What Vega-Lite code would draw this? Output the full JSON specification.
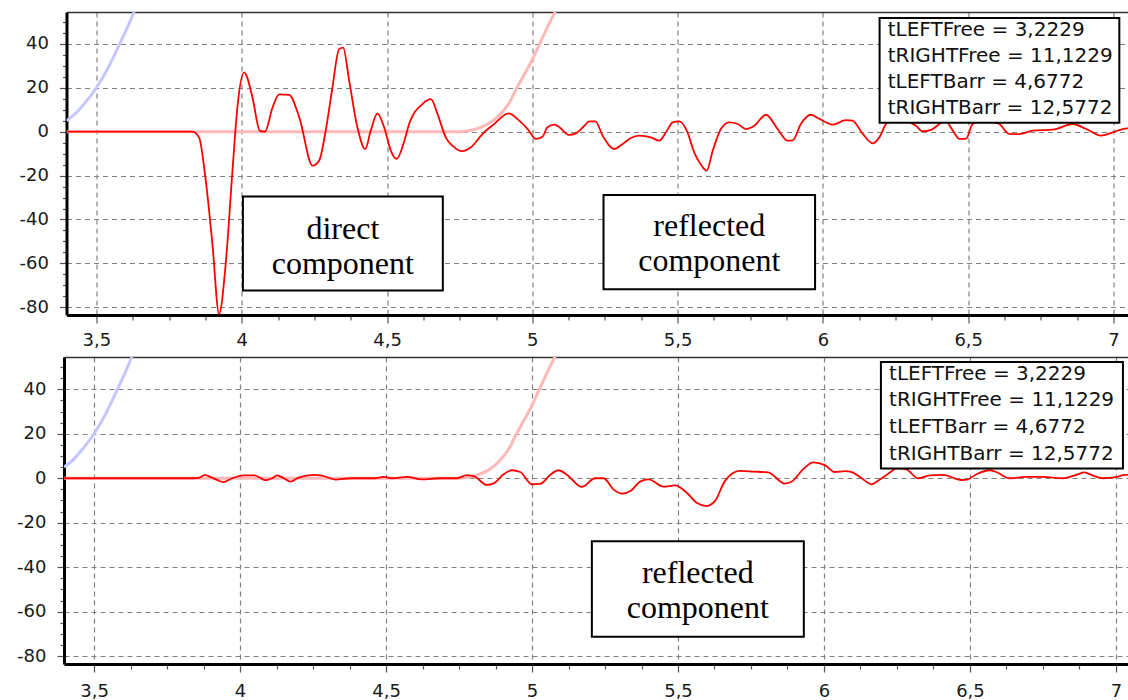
{
  "$schema": "https://vega.github.io/schema/vega-lite/v6.json",
  "background": "white",
  "padding": {"left": 16, "top": 12, "right": 0, "bottom": 0},
  "spacing": 42,
  "bounds": "flush",
  "center": true,
  "config": {"view": {"stroke": null}, "font": "DejaVu Sans"},
  "datasets": {
    "blue": [
      {"t": 3.397, "v": 5}, {"t": 3.43, "v": 8.5}, {"t": 3.46, "v": 13}, {"t": 3.5, "v": 20},
      {"t": 3.54, "v": 29}, {"t": 3.58, "v": 40}, {"t": 3.61, "v": 48.5}, {"t": 3.64, "v": 58}
    ],
    "pink": [
      {"t": 3.397, "v": 0}, {"t": 4.75, "v": 0}, {"t": 4.78, "v": 0.4}, {"t": 4.82, "v": 1.8},
      {"t": 4.86, "v": 4.5}, {"t": 4.89, "v": 8}, {"t": 4.92, "v": 13}, {"t": 4.945, "v": 19.5},
      {"t": 4.97, "v": 25.5}, {"t": 4.995, "v": 31.5}, {"t": 5.025, "v": 40}, {"t": 5.05, "v": 47},
      {"t": 5.08, "v": 55}, {"t": 5.1, "v": 60}
    ],
    "redTop": [
      {"t": 3.397, "v": 0}, {"t": 3.83, "v": 0}, {"t": 3.853, "v": -2.6}, {"t": 3.876, "v": -22},
      {"t": 3.899, "v": -51}, {"t": 3.922, "v": -83}, {"t": 3.945, "v": -60}, {"t": 3.968, "v": -18},
      {"t": 3.985, "v": 11}, {"t": 4.008, "v": 27}, {"t": 4.037, "v": 15.6}, {"t": 4.062, "v": 0.5},
      {"t": 4.08, "v": 0}, {"t": 4.106, "v": 11}, {"t": 4.129, "v": 17}, {"t": 4.163, "v": 16.8},
      {"t": 4.198, "v": 6.5}, {"t": 4.244, "v": -15.5}, {"t": 4.267, "v": -13}, {"t": 4.289, "v": 0.5},
      {"t": 4.312, "v": 20}, {"t": 4.335, "v": 37.6}, {"t": 4.349, "v": 38.3}, {"t": 4.37, "v": 23},
      {"t": 4.398, "v": 2}, {"t": 4.425, "v": -7.9}, {"t": 4.444, "v": 0.5}, {"t": 4.467, "v": 8.3},
      {"t": 4.49, "v": 2}, {"t": 4.513, "v": -8.6}, {"t": 4.533, "v": -12.4}, {"t": 4.56, "v": -4},
      {"t": 4.576, "v": 3.5}, {"t": 4.622, "v": 12.6}, {"t": 4.651, "v": 14.8}, {"t": 4.674, "v": 8},
      {"t": 4.702, "v": -2.6}, {"t": 4.725, "v": -6.4}, {"t": 4.758, "v": -8.9}, {"t": 4.789, "v": -7.1},
      {"t": 4.829, "v": -1}, {"t": 4.869, "v": 3.5}, {"t": 4.918, "v": 8.3}, {"t": 4.955, "v": 5},
      {"t": 4.984, "v": 1.2}, {"t": 5.012, "v": -3.3}, {"t": 5.035, "v": -2.3}, {"t": 5.052, "v": 2},
      {"t": 5.076, "v": 3.2}, {"t": 5.093, "v": 2}, {"t": 5.127, "v": -1.5}, {"t": 5.15, "v": -0.8},
      {"t": 5.179, "v": 2.7}, {"t": 5.196, "v": 4.7}, {"t": 5.217, "v": 4.7}, {"t": 5.242, "v": -1.8},
      {"t": 5.282, "v": -7.9}, {"t": 5.311, "v": -5.6}, {"t": 5.339, "v": -2.9}, {"t": 5.368, "v": -1.8},
      {"t": 5.408, "v": -2.6}, {"t": 5.437, "v": -4.1}, {"t": 5.46, "v": -0.3}, {"t": 5.483, "v": 4.2},
      {"t": 5.506, "v": 4.7}, {"t": 5.534, "v": -0.3}, {"t": 5.557, "v": -9.4}, {"t": 5.58, "v": -15},
      {"t": 5.6, "v": -17.7}, {"t": 5.621, "v": -8.6}, {"t": 5.649, "v": 1.2}, {"t": 5.678, "v": 4.2},
      {"t": 5.707, "v": 3.5}, {"t": 5.735, "v": 1.2}, {"t": 5.764, "v": 2.7}, {"t": 5.804, "v": 7.7},
      {"t": 5.844, "v": 1.2}, {"t": 5.879, "v": -4.1}, {"t": 5.896, "v": -4}, {"t": 5.924, "v": 3.5},
      {"t": 5.959, "v": 7.7}, {"t": 5.988, "v": 5.8}, {"t": 6.034, "v": 3.2}, {"t": 6.079, "v": 5.3},
      {"t": 6.102, "v": 5}, {"t": 6.137, "v": -1}, {"t": 6.171, "v": -5.3}, {"t": 6.194, "v": -2.6},
      {"t": 6.217, "v": 3.5}, {"t": 6.245, "v": 6}, {"t": 6.28, "v": 5}, {"t": 6.32, "v": 2.7},
      {"t": 6.343, "v": 0.1}, {"t": 6.372, "v": 0.8}, {"t": 6.401, "v": 3.5}, {"t": 6.42, "v": 5},
      {"t": 6.447, "v": 0.5}, {"t": 6.47, "v": -3.3}, {"t": 6.493, "v": -3.2}, {"t": 6.515, "v": 3.5},
      {"t": 6.55, "v": 5}, {"t": 6.58, "v": 4.5}, {"t": 6.607, "v": 3.5}, {"t": 6.641, "v": -1},
      {"t": 6.676, "v": -1.1}, {"t": 6.722, "v": 0.5}, {"t": 6.791, "v": 0.9}, {"t": 6.86, "v": 3.5},
      {"t": 6.906, "v": 1.2}, {"t": 6.957, "v": -1.8}, {"t": 6.997, "v": -0.3}, {"t": 7.032, "v": 1.2},
      {"t": 7.055, "v": 1.5}
    ],
    "redBottom": [
      {"t": 3.397, "v": 0}, {"t": 3.84, "v": 0}, {"t": 3.862, "v": 0.3}, {"t": 3.879, "v": 1.5},
      {"t": 3.9, "v": 0.5}, {"t": 3.925, "v": -1}, {"t": 3.942, "v": -1.7}, {"t": 3.973, "v": 0},
      {"t": 4.013, "v": 1.3}, {"t": 4.05, "v": 1.3}, {"t": 4.087, "v": -0.9}, {"t": 4.11, "v": 0},
      {"t": 4.127, "v": 1.3}, {"t": 4.15, "v": 0}, {"t": 4.173, "v": -1.5}, {"t": 4.2, "v": 0.3},
      {"t": 4.253, "v": 1.5}, {"t": 4.28, "v": 1.2}, {"t": 4.327, "v": -0.6}, {"t": 4.38, "v": 0},
      {"t": 4.46, "v": 0}, {"t": 4.492, "v": 0.6}, {"t": 4.52, "v": 0}, {"t": 4.572, "v": 0.6},
      {"t": 4.623, "v": -0.5}, {"t": 4.68, "v": 0}, {"t": 4.743, "v": 0}, {"t": 4.777, "v": 1.4},
      {"t": 4.806, "v": 0.6}, {"t": 4.845, "v": -3}, {"t": 4.87, "v": -2.2}, {"t": 4.903, "v": 1.8},
      {"t": 4.931, "v": 3.6}, {"t": 4.96, "v": 2.8}, {"t": 4.999, "v": -2.7}, {"t": 5.03, "v": -2.4},
      {"t": 5.062, "v": 1.5}, {"t": 5.091, "v": 3.6}, {"t": 5.12, "v": 1.5}, {"t": 5.171, "v": -3.9},
      {"t": 5.216, "v": 0}, {"t": 5.245, "v": 0}, {"t": 5.279, "v": -5}, {"t": 5.308, "v": -6.9},
      {"t": 5.34, "v": -5.5}, {"t": 5.37, "v": -1.5}, {"t": 5.4, "v": -0.5}, {"t": 5.45, "v": -3.8},
      {"t": 5.49, "v": -3.2}, {"t": 5.53, "v": -6.5}, {"t": 5.564, "v": -11}, {"t": 5.598, "v": -12.5},
      {"t": 5.627, "v": -10.2}, {"t": 5.661, "v": -1.2}, {"t": 5.712, "v": 3.3}, {"t": 5.758, "v": 3},
      {"t": 5.809, "v": 2.6}, {"t": 5.866, "v": -2.4}, {"t": 5.89, "v": -1.5}, {"t": 5.929, "v": 4.1},
      {"t": 5.963, "v": 7.1}, {"t": 6.003, "v": 5.9}, {"t": 6.037, "v": 2.8}, {"t": 6.072, "v": 3.2},
      {"t": 6.095, "v": 2.8}, {"t": 6.129, "v": 0}, {"t": 6.163, "v": -2.7}, {"t": 6.191, "v": -0.6},
      {"t": 6.226, "v": 2.6}, {"t": 6.25, "v": 4.5}, {"t": 6.282, "v": 4}, {"t": 6.322, "v": 0},
      {"t": 6.362, "v": 1.3}, {"t": 6.408, "v": 1.5}, {"t": 6.471, "v": -0.8}, {"t": 6.49, "v": -0.6},
      {"t": 6.522, "v": 1.8}, {"t": 6.567, "v": 3.6}, {"t": 6.59, "v": 2.8}, {"t": 6.636, "v": 0},
      {"t": 6.693, "v": 0.6}, {"t": 6.75, "v": 0.6}, {"t": 6.818, "v": 0}, {"t": 6.864, "v": 1.5},
      {"t": 6.893, "v": 2.6}, {"t": 6.92, "v": 1.3}, {"t": 6.955, "v": 0}, {"t": 7.0, "v": 0.5},
      {"t": 7.03, "v": 1.5}, {"t": 7.055, "v": 1.5}
    ],
    "noteTop": [
      {"x1": 4.004, "x2": 4.692, "y1": -29.5, "y2": -72.3, "xc": 4.348, "yc": -44.2, "label": "direct\ncomponent"},
      {"x1": 5.245, "x2": 5.973, "y1": -28.9, "y2": -71.8, "xc": 5.609, "yc": -42.8, "label": "reflected\ncomponent"}
    ],
    "noteBottom": [
      {"x1": 5.205, "x2": 5.931, "y1": -28.3, "y2": -71.2, "xc": 5.568, "yc": -42.5, "label": "reflected\ncomponent"}
    ],
    "legBoxTop": [{"x1": 6.195, "x2": 7.02, "y1": 51.8, "y2": 4.1}],
    "legBoxBottom": [{"x1": 6.195, "x2": 7.024, "y1": 52.2, "y2": 4.4}],
    "legTextTop": [
      {"x": 6.223, "y": 46.4, "label": "tLEFTFree = 3,2229"},
      {"x": 6.223, "y": 34.5, "label": "tRIGHTFree = 11,1229"},
      {"x": 6.223, "y": 22.7, "label": "tLEFTBarr = 4,6772"},
      {"x": 6.223, "y": 10.9, "label": "tRIGHTBarr = 12,5772"}
    ],
    "legTextBottom": [
      {"x": 6.223, "y": 47, "label": "tLEFTFree = 3,2229"},
      {"x": 6.223, "y": 35, "label": "tRIGHTFree = 11,1229"},
      {"x": 6.223, "y": 22.9, "label": "tLEFTBarr = 4,6772"},
      {"x": 6.223, "y": 10.8, "label": "tRIGHTBarr = 12,5772"}
    ]
  },
  "vconcat": [
    {
      "width": 1063,
      "height": 303,
      "resolve": {"axis": {"x": "independent", "y": "independent"}},
      "layer": [
        {
          "data": {"name": "blue"},
          "mark": {"type": "line", "color": "#c6c6ff", "strokeWidth": 3, "clip": true, "interpolate": "monotone"},
          "encoding": {
            "x": {"field": "t", "type": "quantitative", "scale": {"domain": [3.397, 7.055], "nice": false, "zero": false},
              "axis": {"title": null, "values": [3.5,3.625,3.75,3.875,4,4.125,4.25,4.375,4.5,4.625,4.75,4.875,5,5.125,5.25,5.375,5.5,5.625,5.75,5.875,6,6.125,6.25,6.375,6.5,6.625,6.75,6.875,7],
                "grid": true, "gridColor": "#808080", "gridDash": [5, 4], "gridWidth": 1.2,
                "gridOpacity": {"condition": {"test": "datum.value % 0.5 === 0", "value": 1}, "value": 0},
                "domainColor": "#000000", "domainWidth": 3, "tickColor": "#555555", "tickWidth": 1.2,
                "tickSize": {"condition": {"test": "datum.value % 0.5 === 0", "value": 8}, "value": 5},
                "labelExpr": "datum.value % 0.5 === 0 ? replace(toString(datum.value), '.', ',') : ''",
                "labelFont": "DejaVu Sans", "labelFontSize": 18, "labelColor": "#1a1a1a", "labelPadding": 8,
                "labelFlush": false, "labelOverlap": false, "labelBound": false}},
            "y": {"field": "v", "type": "quantitative", "scale": {"domain": [-83.5, 54.5], "nice": false, "zero": false},
              "axis": {"title": null, "values": [-80,-75,-70,-65,-60,-55,-50,-45,-40,-35,-30,-25,-20,-15,-10,-5,0,5,10,15,20,25,30,35,40,45,50],
                "grid": true, "gridColor": "#808080", "gridDash": [5, 4], "gridWidth": 1.2,
                "gridOpacity": {"condition": {"test": "datum.value % 20 === 0", "value": 1}, "value": 0},
                "domainColor": "#000000", "domainWidth": 3, "tickColor": "#555555", "tickWidth": 1.2,
                "tickSize": {"condition": {"test": "datum.value % 20 === 0", "value": 7}, "value": 4},
                "labelExpr": "datum.value % 20 === 0 ? toString(datum.value) : ''",
                "labelFont": "DejaVu Sans", "labelFontSize": 18, "labelColor": "#1a1a1a", "labelPadding": 11,
                "labelFlush": false, "labelOverlap": false, "labelBound": false}}
          }
        },
        {
          "data": {"name": "pink"},
          "mark": {"type": "line", "color": "#ffb8b8", "strokeWidth": 3, "clip": true, "interpolate": "monotone"},
          "encoding": {
            "x": {"field": "t", "type": "quantitative", "scale": {"domain": [3.397, 7.055], "nice": false, "zero": false},
              "axis": {"orient": "top", "title": null, "labels": false, "ticks": false, "grid": false, "domainColor": "#333333", "domainWidth": 1.5}},
            "y": {"field": "v", "type": "quantitative", "scale": {"domain": [-83.5, 54.5], "nice": false, "zero": false},
              "axis": {"orient": "right", "title": null, "labels": false, "ticks": false, "grid": false, "domainColor": "#808080", "domainWidth": 1.2, "domainDash": [5, 4]}}
          }
        },
        {
          "data": {"name": "redTop"},
          "mark": {"type": "line", "color": "#ff0000", "strokeWidth": 1.8, "clip": true, "interpolate": "monotone"},
          "encoding": {
            "x": {"field": "t", "type": "quantitative", "scale": {"domain": [3.397, 7.055], "nice": false, "zero": false}, "axis": null},
            "y": {"field": "v", "type": "quantitative", "scale": {"domain": [-83.5, 54.5], "nice": false, "zero": false}, "axis": null}
          }
        },
        {
          "data": {"name": "noteTop"},
          "mark": {"type": "rect", "fill": "white", "stroke": "black", "strokeWidth": 2},
          "encoding": {
            "x": {"field": "x1", "type": "quantitative", "scale": {"domain": [3.397, 7.055], "nice": false, "zero": false}, "axis": null},
            "x2": {"field": "x2"},
            "y": {"field": "y1", "type": "quantitative", "scale": {"domain": [-83.5, 54.5], "nice": false, "zero": false}, "axis": null},
            "y2": {"field": "y2"}
          }
        },
        {
          "data": {"name": "noteTop"},
          "mark": {"type": "text", "font": "Liberation Serif", "fontSize": 32, "lineBreak": "\n", "lineHeight": 35, "align": "center", "baseline": "middle", "color": "black"},
          "encoding": {
            "x": {"field": "xc", "type": "quantitative", "scale": {"domain": [3.397, 7.055], "nice": false, "zero": false}, "axis": null},
            "y": {"field": "yc", "type": "quantitative", "scale": {"domain": [-83.5, 54.5], "nice": false, "zero": false}, "axis": null},
            "text": {"field": "label"}
          }
        },
        {
          "data": {"name": "legBoxTop"},
          "mark": {"type": "rect", "fill": "white", "stroke": "black", "strokeWidth": 2},
          "encoding": {
            "x": {"field": "x1", "type": "quantitative", "scale": {"domain": [3.397, 7.055], "nice": false, "zero": false}, "axis": null},
            "x2": {"field": "x2"},
            "y": {"field": "y1", "type": "quantitative", "scale": {"domain": [-83.5, 54.5], "nice": false, "zero": false}, "axis": null},
            "y2": {"field": "y2"}
          }
        },
        {
          "data": {"name": "legTextTop"},
          "mark": {"type": "text", "font": "DejaVu Sans", "fontSize": 20, "align": "left", "baseline": "middle", "color": "#111111"},
          "encoding": {
            "x": {"field": "x", "type": "quantitative", "scale": {"domain": [3.397, 7.055], "nice": false, "zero": false}, "axis": null},
            "y": {"field": "y", "type": "quantitative", "scale": {"domain": [-83.5, 54.5], "nice": false, "zero": false}, "axis": null},
            "text": {"field": "label"}
          }
        }
      ]
    },
    {
      "width": 1068,
      "height": 307,
      "resolve": {"axis": {"x": "independent", "y": "independent"}},
      "layer": [
        {
          "data": {"name": "blue"},
          "mark": {"type": "line", "color": "#c6c6ff", "strokeWidth": 3, "clip": true, "interpolate": "monotone"},
          "encoding": {
            "x": {"field": "t", "type": "quantitative", "scale": {"domain": [3.397, 7.055], "nice": false, "zero": false},
              "axis": {"title": null, "values": [3.5,3.625,3.75,3.875,4,4.125,4.25,4.375,4.5,4.625,4.75,4.875,5,5.125,5.25,5.375,5.5,5.625,5.75,5.875,6,6.125,6.25,6.375,6.5,6.625,6.75,6.875,7],
                "grid": true, "gridColor": "#808080", "gridDash": [5, 4], "gridWidth": 1.2,
                "gridOpacity": {"condition": {"test": "datum.value % 0.5 === 0", "value": 1}, "value": 0},
                "domainColor": "#000000", "domainWidth": 3, "tickColor": "#555555", "tickWidth": 1.2,
                "tickSize": {"condition": {"test": "datum.value % 0.5 === 0", "value": 8}, "value": 5},
                "labelExpr": "datum.value % 0.5 === 0 ? replace(toString(datum.value), '.', ',') : ''",
                "labelFont": "DejaVu Sans", "labelFontSize": 18, "labelColor": "#1a1a1a", "labelPadding": 10,
                "labelFlush": false, "labelOverlap": false, "labelBound": false}},
            "y": {"field": "v", "type": "quantitative", "scale": {"domain": [-83.5, 54.5], "nice": false, "zero": false},
              "axis": {"title": null, "values": [-80,-75,-70,-65,-60,-55,-50,-45,-40,-35,-30,-25,-20,-15,-10,-5,0,5,10,15,20,25,30,35,40,45,50],
                "grid": true, "gridColor": "#808080", "gridDash": [5, 4], "gridWidth": 1.2,
                "gridOpacity": {"condition": {"test": "datum.value % 20 === 0", "value": 1}, "value": 0},
                "domainColor": "#000000", "domainWidth": 3, "tickColor": "#555555", "tickWidth": 1.2,
                "tickSize": {"condition": {"test": "datum.value % 20 === 0", "value": 7}, "value": 4},
                "labelExpr": "datum.value % 20 === 0 ? toString(datum.value) : ''",
                "labelFont": "DejaVu Sans", "labelFontSize": 18, "labelColor": "#1a1a1a", "labelPadding": 11,
                "labelFlush": false, "labelOverlap": false, "labelBound": false}}
          }
        },
        {
          "data": {"name": "pink"},
          "mark": {"type": "line", "color": "#ffb8b8", "strokeWidth": 3, "clip": true, "interpolate": "monotone"},
          "encoding": {
            "x": {"field": "t", "type": "quantitative", "scale": {"domain": [3.397, 7.055], "nice": false, "zero": false},
              "axis": {"orient": "top", "title": null, "labels": false, "ticks": false, "grid": false, "domainColor": "#333333", "domainWidth": 1.5}},
            "y": {"field": "v", "type": "quantitative", "scale": {"domain": [-83.5, 54.5], "nice": false, "zero": false},
              "axis": {"orient": "right", "title": null, "labels": false, "ticks": false, "grid": false, "domainColor": "#808080", "domainWidth": 1.2, "domainDash": [5, 4]}}
          }
        },
        {
          "data": {"name": "redBottom"},
          "mark": {"type": "line", "color": "#ff0000", "strokeWidth": 1.8, "clip": true, "interpolate": "monotone"},
          "encoding": {
            "x": {"field": "t", "type": "quantitative", "scale": {"domain": [3.397, 7.055], "nice": false, "zero": false}, "axis": null},
            "y": {"field": "v", "type": "quantitative", "scale": {"domain": [-83.5, 54.5], "nice": false, "zero": false}, "axis": null}
          }
        },
        {
          "data": {"name": "noteBottom"},
          "mark": {"type": "rect", "fill": "white", "stroke": "black", "strokeWidth": 2},
          "encoding": {
            "x": {"field": "x1", "type": "quantitative", "scale": {"domain": [3.397, 7.055], "nice": false, "zero": false}, "axis": null},
            "x2": {"field": "x2"},
            "y": {"field": "y1", "type": "quantitative", "scale": {"domain": [-83.5, 54.5], "nice": false, "zero": false}, "axis": null},
            "y2": {"field": "y2"}
          }
        },
        {
          "data": {"name": "noteBottom"},
          "mark": {"type": "text", "font": "Liberation Serif", "fontSize": 32, "lineBreak": "\n", "lineHeight": 35, "align": "center", "baseline": "middle", "color": "black"},
          "encoding": {
            "x": {"field": "xc", "type": "quantitative", "scale": {"domain": [3.397, 7.055], "nice": false, "zero": false}, "axis": null},
            "y": {"field": "yc", "type": "quantitative", "scale": {"domain": [-83.5, 54.5], "nice": false, "zero": false}, "axis": null},
            "text": {"field": "label"}
          }
        },
        {
          "data": {"name": "legBoxBottom"},
          "mark": {"type": "rect", "fill": "white", "stroke": "black", "strokeWidth": 2},
          "encoding": {
            "x": {"field": "x1", "type": "quantitative", "scale": {"domain": [3.397, 7.055], "nice": false, "zero": false}, "axis": null},
            "x2": {"field": "x2"},
            "y": {"field": "y1", "type": "quantitative", "scale": {"domain": [-83.5, 54.5], "nice": false, "zero": false}, "axis": null},
            "y2": {"field": "y2"}
          }
        },
        {
          "data": {"name": "legTextBottom"},
          "mark": {"type": "text", "font": "DejaVu Sans", "fontSize": 20, "align": "left", "baseline": "middle", "color": "#111111"},
          "encoding": {
            "x": {"field": "x", "type": "quantitative", "scale": {"domain": [3.397, 7.055], "nice": false, "zero": false}, "axis": null},
            "y": {"field": "y", "type": "quantitative", "scale": {"domain": [-83.5, 54.5], "nice": false, "zero": false}, "axis": null},
            "text": {"field": "label"}
          }
        }
      ]
    }
  ]
}
